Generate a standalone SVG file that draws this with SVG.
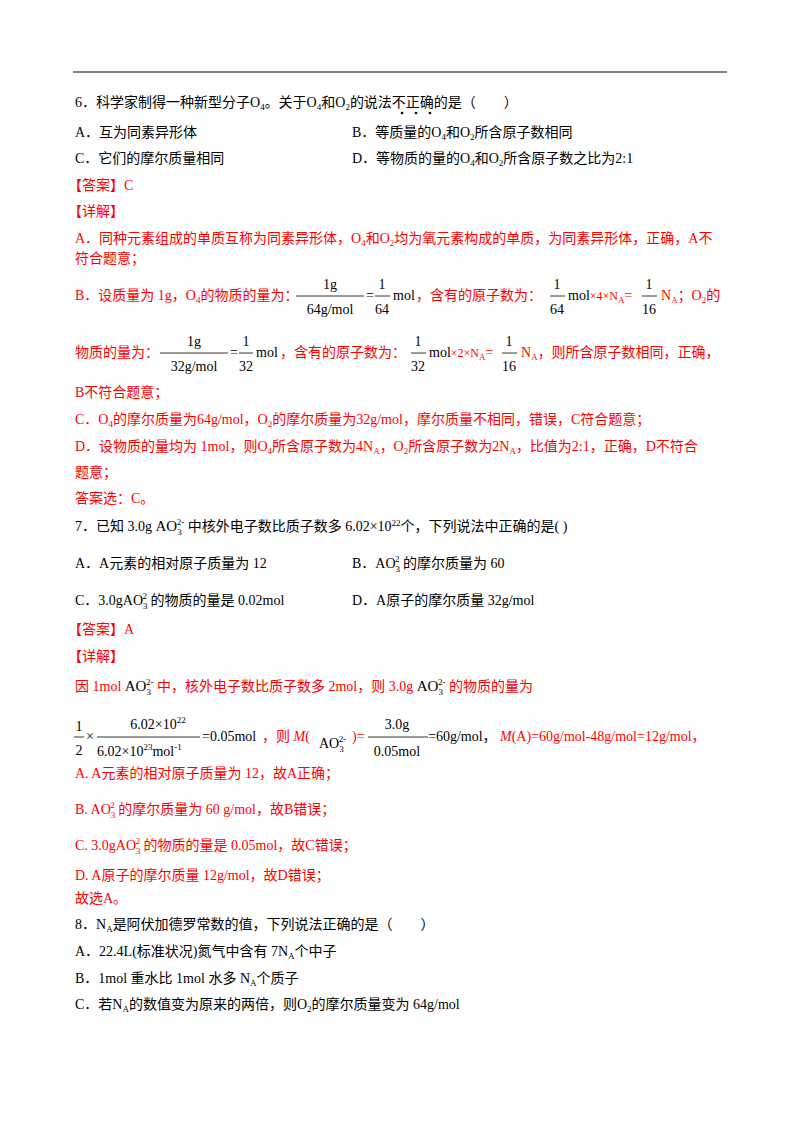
<svg xmlns="http://www.w3.org/2000/svg" width="800" height="1132" viewBox="0 0 800 1132">
<style>
text{font-family:"Liberation Serif","Noto Sans CJK SC",serif;font-size:14px;fill:#000}
.r{fill:#ff0000}
.s{font-size:9px}
.bar{stroke:#000;stroke-width:0.8}
</style>
<rect width="800" height="1132" fill="#fff"/>
<line x1="73" y1="72" x2="727" y2="72" stroke="#000" stroke-width="1.2"/>
<text x="75" y="107">6．科学家制得一种新型分子O<tspan class="s" dy="3">4</tspan><tspan dy="-3">。关于O</tspan><tspan class="s" dy="3">4</tspan><tspan dy="-3">和O</tspan><tspan class="s" dy="3">2</tspan><tspan dy="-3">的说法不正确的是（　　）</tspan></text>
<g fill="#000"><circle cx="402" cy="113" r="1.3"/><circle cx="416" cy="113" r="1.3"/><circle cx="430" cy="113" r="1.3"/></g>
<text x="75" y="137">A．互为同素异形体</text>
<text x="352" y="137">B．等质量的O<tspan class="s" dy="3">4</tspan><tspan dy="-3">和O</tspan><tspan class="s" dy="3">2</tspan><tspan dy="-3">所含原子数相同</tspan></text>
<text x="75" y="163">C．它们的摩尔质量相同</text>
<text x="352" y="163">D．等物质的量的O<tspan class="s" dy="3">4</tspan><tspan dy="-3">和O</tspan><tspan class="s" dy="3">2</tspan><tspan dy="-3">所含原子数之比为2:1</tspan></text>
<text x="68" y="190" class="r">【答案】C</text>
<text x="68" y="216" class="r">【详解】</text>
<text x="75" y="243" class="r">A．同种元素组成的单质互称为同素异形体，O<tspan class="s" dy="3">4</tspan><tspan dy="-3">和O</tspan><tspan class="s" dy="3">2</tspan><tspan dy="-3">均为氧元素构成的单质，为同素异形体，正确，A不</tspan></text>
<text x="75" y="263" class="r">符合题意；</text>
<text x="75" y="300" class="r">B．设质量为 1g，O<tspan class="s" dy="3">4</tspan><tspan dy="-3">的物质的量为：</tspan></text>
<text x="330" y="289" text-anchor="middle">1g</text><line class="bar" x1="296" y1="296" x2="364" y2="296"/><text x="330" y="314" text-anchor="middle">64g/mol</text>
<text x="366" y="300">=</text>
<text x="382" y="289" text-anchor="middle">1</text><line class="bar" x1="375" y1="296" x2="390" y2="296"/><text x="382" y="314" text-anchor="middle">64</text>
<text x="393" y="300">mol</text>
<text x="416" y="300" class="r">，含有的原子数为：</text>
<text x="557" y="289" text-anchor="middle">1</text><line class="bar" x1="550" y1="296" x2="565" y2="296"/><text x="557" y="314" text-anchor="middle">64</text>
<text x="568" y="300">mol<tspan class="r" font-size="12">×4×N</tspan><tspan class="s r" dy="3">A</tspan><tspan class="r" dy="-3">=</tspan></text>
<text x="649" y="289" text-anchor="middle">1</text><line class="bar" x1="642" y1="296" x2="657" y2="296"/><text x="649" y="314" text-anchor="middle">16</text>
<text x="661" y="300" class="r">N<tspan class="s" dy="3">A</tspan><tspan dy="-3">；O</tspan><tspan class="s" dy="3">2</tspan><tspan dy="-3">的</tspan></text>
<text x="75" y="357" class="r">物质的量为：</text>
<text x="194" y="346" text-anchor="middle">1g</text><line class="bar" x1="160" y1="353" x2="228" y2="353"/><text x="194" y="371" text-anchor="middle">32g/mol</text>
<text x="230" y="357">=</text>
<text x="246" y="346" text-anchor="middle">1</text><line class="bar" x1="239" y1="353" x2="253" y2="353"/><text x="246" y="371" text-anchor="middle">32</text>
<text x="256" y="357">mol</text>
<text x="280" y="357" class="r">，含有的原子数为：</text>
<text x="418" y="346" text-anchor="middle">1</text><line class="bar" x1="411" y1="353" x2="426" y2="353"/><text x="418" y="371" text-anchor="middle">32</text>
<text x="429" y="357">mol<tspan class="r" font-size="12">×2×N</tspan><tspan class="s r" dy="3">A</tspan><tspan class="r" dy="-3">=</tspan></text>
<text x="509" y="346" text-anchor="middle">1</text><line class="bar" x1="502" y1="353" x2="517" y2="353"/><text x="509" y="371" text-anchor="middle">16</text>
<text x="521" y="357" class="r">N<tspan class="s" dy="3">A</tspan><tspan dy="-3">，则所含原子数相同，正确，</tspan></text>
<text x="75" y="397" class="r">B不符合题意；</text>
<text x="75" y="424" class="r">C．O<tspan class="s" dy="3">4</tspan><tspan dy="-3">的摩尔质量为64g/mol，O</tspan><tspan class="s" dy="3">2</tspan><tspan dy="-3">的摩尔质量为32g/mol，摩尔质量不相同，错误，C符合题意；</tspan></text>
<text x="75" y="451" class="r">D．设物质的量均为 1mol，则O<tspan class="s" dy="3">4</tspan><tspan dy="-3">所含原子数为4N</tspan><tspan class="s" dy="3">A</tspan><tspan dy="-3">，O</tspan><tspan class="s" dy="3">2</tspan><tspan dy="-3">所含原子数为2N</tspan><tspan class="s" dy="3">A</tspan><tspan dy="-3">，比值为2:1，正确，D不符合</tspan></text>
<text x="75" y="477" class="r">题意；</text>
<text x="75" y="503" class="r">答案选：C。</text>
<text x="75" y="531">7．已知 3.0g <tspan font-size="15">AO</tspan><tspan class="s" dy="4">3</tspan><tspan class="s" dx="-5" dy="-10">2-</tspan><tspan dy="6"> 中核外电子数比质子数多 6.02×10</tspan><tspan class="s" dy="-5">22</tspan><tspan dy="5">个，下列说法中正确的是(   )</tspan></text>
<text x="75" y="568">A．A元素的相对原子质量为 12</text>
<text x="352" y="568">B．AO<tspan class="s" dy="4">3</tspan><tspan class="s" dx="-5" dy="-10">2</tspan><tspan dy="6">  的摩尔质量为 60</tspan></text>
<text x="75" y="605">C．3.0gAO<tspan class="s" dy="4">3</tspan><tspan class="s" dx="-5" dy="-10">2</tspan><tspan dy="6">  的物质的量是 0.02mol</tspan></text>
<text x="352" y="605">D．A原子的摩尔质量 32g/mol</text>
<text x="68" y="634" class="r">【答案】A</text>
<text x="68" y="661" class="r">【详解】</text>
<text x="75" y="691" class="r">因 1mol <tspan fill="#000" font-size="15">AO</tspan><tspan class="s" fill="#000" dy="4">3</tspan><tspan class="s" fill="#000" dx="-5" dy="-10">2-</tspan><tspan dy="6"> 中，核外电子数比质子数多 2mol，则 3.0g </tspan><tspan fill="#000" font-size="15">AO</tspan><tspan class="s" fill="#000" dy="4">3</tspan><tspan class="s" fill="#000" dx="-5" dy="-10">2-</tspan><tspan dy="6"> 的物质的量为</tspan></text>
<text x="79" y="731" text-anchor="middle">1</text><line class="bar" x1="74" y1="737" x2="84" y2="737"/><text x="79" y="755" text-anchor="middle">2</text>
<text x="86" y="741" font-size="12">×</text>
<text x="158" y="729" text-anchor="middle">6.02×10<tspan class="s" dy="-6">22</tspan></text>
<line class="bar" x1="97" y1="737" x2="200" y2="737"/>
<text x="97" y="756">6.02×10<tspan class="s" dy="-6">23</tspan><tspan dy="6">mol</tspan><tspan class="s" dy="-6">-1</tspan></text>
<text x="202" y="741">=0.05mol</text>
<text x="262" y="741" class="r">，则 <tspan font-style="italic">M</tspan>(</text>
<text x="319" y="748" font-size="15">AO<tspan class="s" dy="4">3</tspan><tspan class="s" dx="-5" dy="-10">2-</tspan></text>
<text x="352" y="741" class="r">)=</text>
<text x="397" y="729" text-anchor="middle">3.0g</text><line class="bar" x1="368" y1="737" x2="428" y2="737"/><text x="397" y="756" text-anchor="middle">0.05mol</text>
<text x="428" y="741">=60g/mol，</text>
<text x="500" y="741" class="r"><tspan font-style="italic">M</tspan>(A)=60g/mol-48g/mol=12g/mol，</text>
<text x="75" y="778" class="r">A. A元素的相对原子质量为 12，故A正确；</text>
<text x="75" y="814" class="r">B. AO<tspan class="s" dy="4">3</tspan><tspan class="s" dx="-5" dy="-10">2</tspan><tspan dy="6"> 的摩尔质量为 60 g/mol，故B错误；</tspan></text>
<text x="75" y="850" class="r">C. 3.0gAO<tspan class="s" dy="4">3</tspan><tspan class="s" dx="-5" dy="-10">2</tspan><tspan dy="6">  的物质的量是 0.05mol，故C错误；</tspan></text>
<text x="75" y="880" class="r">D. A原子的摩尔质量 12g/mol，故D错误；</text>
<text x="75" y="903" class="r">故选A。</text>
<text x="75" y="929">8．N<tspan class="s" dy="3">A</tspan><tspan dy="-3">是阿伏加德罗常数的值，下列说法正确的是（　　）</tspan></text>
<text x="75" y="956">A．22.4L(标准状况)氮气中含有 7N<tspan class="s" dy="3">A</tspan><tspan dy="-3">个中子</tspan></text>
<text x="75" y="983">B．1mol 重水比 1mol 水多 N<tspan class="s" dy="3">A</tspan><tspan dy="-3">个质子</tspan></text>
<text x="75" y="1009">C．若N<tspan class="s" dy="3">A</tspan><tspan dy="-3">的数值变为原来的两倍，则O</tspan><tspan class="s" dy="3">2</tspan><tspan dy="-3">的摩尔质量变为 64g/mol</tspan></text>
</svg>
